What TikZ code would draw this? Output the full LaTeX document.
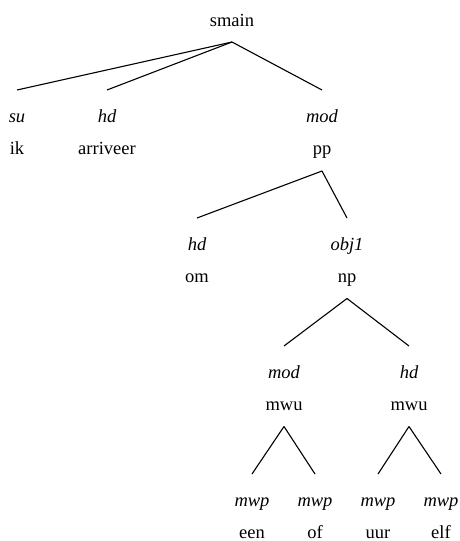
\documentclass[tikz,border=0pt]{standalone}
\usepackage{fontspec}
\setmainfont{Liberation Serif}
\begin{document}
\begin{tikzpicture}[x=1pt,y=-1pt,
  lab/.style={anchor=base,inner sep=0pt,font=\fontsize{18.5}{20}\selectfont\itshape},
  wrd/.style={anchor=base,inner sep=0pt,font=\fontsize{18.5}{20}\selectfont},
  br/.style={line width=1.1pt}]
\useasboundingbox (0,0) rectangle (459,541);
% root
\node[wrd] (smain) at (232,26) {smain};
\coordinate (a0) at (232,42);
% level 1
\node[lab] (su) at (17,122) {su};
\node[wrd] (ik) at (17,154) {ik};
\node[lab] (hd1) at (107,122) {hd};
\node[wrd] (arriveer) at (107,154) {arriveer};
\node[lab] (mod1) at (322,122) {mod};
\node[wrd] (pp) at (322,154) {pp};
\coordinate (t-su) at (17,90);
\coordinate (t-hd1) at (107,90);
\coordinate (t-mod1) at (322,90);
\coordinate (a1) at (322,171);
% level 2
\node[lab] (hd2) at (197,250) {hd};
\node[wrd] (om) at (197,282) {om};
\node[lab] (obj1) at (347,250) {obj1};
\node[wrd] (np) at (347,282) {np};
\coordinate (t-hd2) at (197,218);
\coordinate (t-obj1) at (347,218);
\coordinate (a2) at (347,298.5);
% level 3
\node[lab] (mod3) at (284,378) {mod};
\node[wrd] (mwu1) at (284,410) {mwu};
\node[lab] (hd3) at (409,378) {hd};
\node[wrd] (mwu2) at (409,410) {mwu};
\coordinate (t-mod3) at (284,346);
\coordinate (t-hd3) at (409,346);
\coordinate (a3) at (284,426.5);
\coordinate (a4) at (409,426.5);
% level 4
\node[lab] (mwp1) at (252,506) {mwp};
\node[wrd] (een) at (252,538) {een};
\node[lab] (mwp2) at (315,506) {mwp};
\node[wrd] (of) at (315,538) {of};
\node[lab] (mwp3) at (378,506) {mwp};
\node[wrd] (uur) at (378,538) {uur};
\node[lab] (mwp4) at (441,506) {mwp};
\node[wrd] (elf) at (441,538) {elf};
\coordinate (t-mwp1) at (252,474);
\coordinate (t-mwp2) at (315,474);
\coordinate (t-mwp3) at (378,474);
\coordinate (t-mwp4) at (441,474);
% branches
\draw[br] (a0) -- (t-su);
\draw[br] (a0) -- (t-hd1);
\draw[br] (a0) -- (t-mod1);
\draw[br] (a1) -- (t-hd2);
\draw[br] (a1) -- (t-obj1);
\draw[br] (a2) -- (t-mod3);
\draw[br] (a2) -- (t-hd3);
\draw[br] (a3) -- (t-mwp1);
\draw[br] (a3) -- (t-mwp2);
\draw[br] (a4) -- (t-mwp3);
\draw[br] (a4) -- (t-mwp4);
\end{tikzpicture}
\end{document}
